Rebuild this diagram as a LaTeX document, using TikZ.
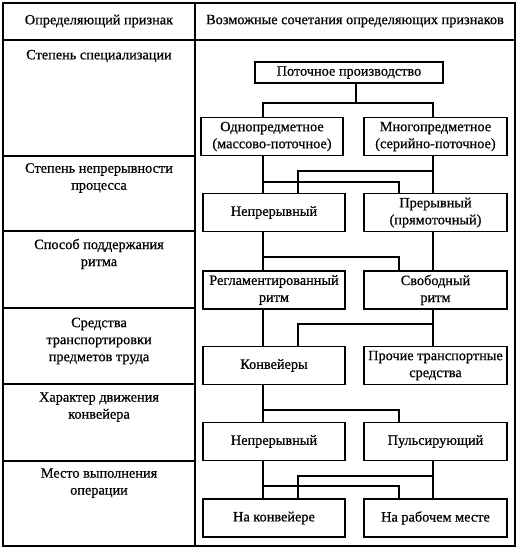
\documentclass[tikz,border=0pt]{standalone}
\usepackage{fontspec}
\setmainfont{Liberation Serif}[FakeBold=0.6]
\begin{document}
\begin{tikzpicture}[x=1pt,y=-1pt,
  txt/.style={font=\fontsize{14.3}{17}\selectfont, align=center, inner sep=0pt},
  lbox/.style={draw, line width=1.4pt, minimum width=142pt, minimum height=38pt, txt},
  rbox/.style={draw, line width=1.4pt, minimum width=143pt, minimum height=38pt, txt},
  conn/.style={line width=1.4pt},
  grid/.style={line width=1.5pt}]
\useasboundingbox (0,0) rectangle (520,550);
% table
\draw[grid] (3,3) rectangle (515,546);
\draw[grid] (195,3) -- (195,546);
\draw[grid] (3,40) -- (515,40);
\foreach \yy in {156,231,308,384,461} \draw[grid] (3,\yy) -- (195,\yy);
% headers
\node[txt] (h1) at (99,21) {Определяющий признак};
\node[txt] (h2) at (355,21) {Возможные сочетания определяющих признаков};
% left column
\node[txt] (c1) at (99,56) {Степень специализации};
\node[txt] (c2) at (99,178) {Степень непрерывности\\процесса};
\node[txt] (c3) at (99,254) {Способ поддержания\\ритма};
\node[txt] (c4) at (99,341) {Средства\\транспортировки\\предметов труда};
\node[txt] (c5) at (99,407) {Характер движения\\конвейера};
\node[txt] (c6) at (99,483) {Место выполнения\\операции};
% boxes
\node[draw, line width=1.4pt, minimum width=188pt, minimum height=21pt, txt] (top) at (349,72.5) {Поточное производство};
\node[lbox] (odno) at (272,136.5) {Однопредметное\\(массово-поточное)};
\node[rbox] (mnogo) at (435.5,136.5) {Многопредметное\\(серийно-поточное)};
\node[lbox] (nepr1) at (274,212.5) {Непрерывный};
\node[rbox] (prer) at (435.5,212.5) {Прерывный\\(прямоточный)};
\node[lbox] (regl) at (274,290) {Регламентированный\\ритм};
\node[rbox] (svob) at (435.5,290) {Свободный\\ритм};
\node[lbox] (konv) at (274,365.5) {Конвейеры};
\node[rbox] (proch) at (435.5,365.5) {Прочие транспортные\\средства};
\node[lbox] (nepr2) at (274,441.5) {Непрерывный};
\node[rbox] (puls) at (435.5,441.5) {Пульсирующий};
\node[lbox] (nakonv) at (274,518) {На конвейере};
\node[rbox] (narab) at (435.5,518) {На рабочем месте};
% helper coordinates
\coordinate (T) at (356,0);
\coordinate (L) at (263,0);
\coordinate (R) at (433,0);
\coordinate (LM) at (298,0);
\coordinate (RM) at (399,0);
\coordinate (y103) at (0,103);
\coordinate (y171) at (0,171);
\coordinate (y182) at (0,182);
\coordinate (y257) at (0,257);
\coordinate (y324) at (0,324);
\coordinate (y410) at (0,410);
\coordinate (y476) at (0,476);
\coordinate (y486) at (0,486);
% connectors
\draw[conn] (top.south -| T) -- (T |- y103);
\draw[conn] (odno.north -| L) -- (L |- y103) -- (R |- y103) -- (mnogo.north -| R);
\draw[conn] (odno.south -| L) -- (nepr1.north -| L);
\draw[conn] (L |- y182) -| (prer.north -| RM);
\draw[conn] (mnogo.south -| R) -- (prer.north -| R);
\draw[conn] (R |- y171) -| (nepr1.north -| LM);
\draw[conn] (nepr1.south -| L) -- (regl.north -| L);
\draw[conn] (L |- y257) -| (svob.north -| RM);
\draw[conn] (prer.south -| R) -- (svob.north -| R);
\draw[conn] (regl.south -| L) -- (konv.north -| L);
\draw[conn] (svob.south -| R) -- (proch.north -| R);
\draw[conn] (R |- y324) -| (konv.north -| LM);
\draw[conn] (konv.south -| L) -- (nepr2.north -| L);
\draw[conn] (L |- y410) -| (puls.north -| RM);
\draw[conn] (nepr2.south -| L) -- (nakonv.north -| L);
\draw[conn] (L |- y486) -| (narab.north -| RM);
\draw[conn] (puls.south -| R) -- (narab.north -| R);
\draw[conn] (R |- y476) -| (nakonv.north -| LM);
\end{tikzpicture}
\end{document}
